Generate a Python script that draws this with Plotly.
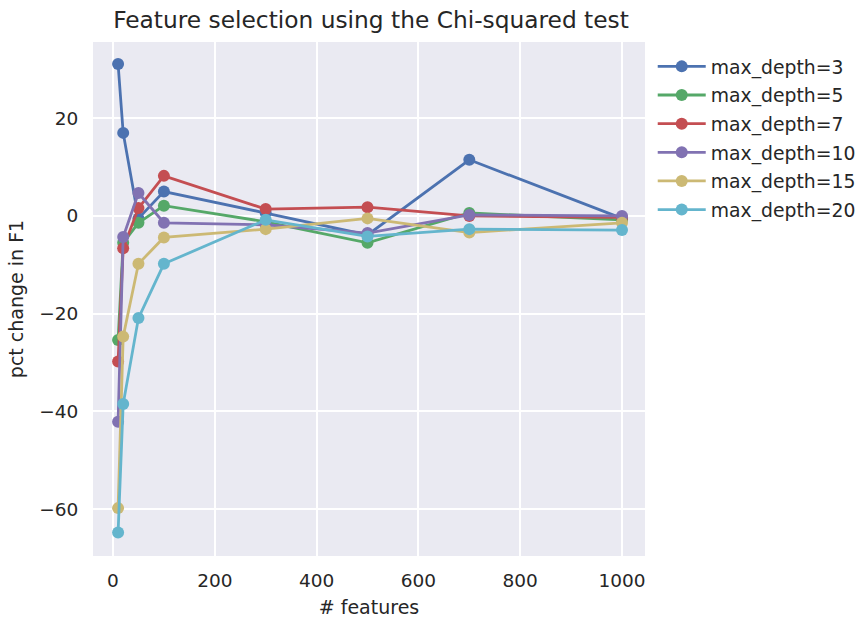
import plotly.graph_objects as go

# numero de features testadas
n_features = [10, 20, 50, 100, 300, 500, 700, 1000]

# pct change em F1 para cada max_depth
depth_3 = [31.1, 17.0, -0.5, 5.0, 0.6, -3.9, 11.5, -0.5]
depth_5 = [-25.4, -5.5, -1.4, 2.1, -1.2, -5.5, 0.6, -0.8]
depth_7 = [-29.8, -6.6, 1.6, 8.2, 1.4, 1.8, 0.0, -0.3]
depth_10 = [-42.1, -4.3, 4.7, -1.4, -1.8, -3.5, 0.2, 0.0]
depth_15 = [-59.8, -24.7, -9.8, -4.4, -2.7, -0.5, -3.4, -1.4]
depth_20 = [-64.8, -38.5, -20.9, -9.8, -0.8, -4.2, -2.7, -2.9]

series_names = ["max_depth=3", "max_depth=5", "max_depth=7",
                "max_depth=10", "max_depth=15", "max_depth=20"]
series_values = [depth_3, depth_5, depth_7, depth_10, depth_15, depth_20]

x_ticks = [0, 200, 400, 600, 800, 1000]
y_ticks = [-60, -40, -20, 0, 20]

# paleta "deep" do seaborn
cores = ["#4C72B0", "#55A868", "#C44E52", "#8172B2", "#CCB974", "#64B5CD"]

fig = go.Figure()

for nome, valores, cor in zip(series_names, series_values, cores):
    fig.add_trace(
        go.Scatter(
            x=n_features, y=valores, mode="lines+markers", name=nome,
            legendgroup=nome,
            line=dict(color=cor, width=2.8),
            marker=dict(color=cor, size=12),
        )
    )

fig.update_xaxes(
    title_text="# features",
    range=[-39.3, 1045.2],
    tickvals=x_ticks,
    showgrid=True, gridcolor="white", gridwidth=1.5,
    zeroline=False, showline=False,
    ticks="outside", ticklen=8, tickcolor="rgba(0,0,0,0)",
    tickfont=dict(size=18.5, color="#262626"),
    title_font=dict(size=19, color="#262626"),
    automargin=False,
)

fig.update_yaxes(
    title_text="pct change in F1",
    range=[-69.6, 35.6],
    tickvals=y_ticks,
    showgrid=True, gridcolor="white", gridwidth=1.5,
    zeroline=False, showline=False,
    ticks="outside", ticklen=10, tickcolor="rgba(0,0,0,0)",
    tickfont=dict(size=18.5, color="#262626"),
    title_font=dict(size=19, color="#262626"),
    title_standoff=10,
)

fig.update_layout(
    width=862, height=618,
    margin=dict(l=93, r=217, t=42, b=62, autoexpand=False),
    plot_bgcolor="#EAEAF2",
    paper_bgcolor="white",
    font=dict(family="DejaVu Sans", color="#262626"),
    title=dict(
        text="Feature selection using the Chi-squared test",
        x=371 / 862, xanchor="center",
        y=1 - 20 / 618, yanchor="middle",
        font=dict(size=23.3, color="#262626"),
    ),
    legend=dict(
        x=1.014, xanchor="left", y=0.989, yanchor="top",
        font=dict(size=18.8, color="#262626"),
        itemwidth=48,
        tracegroupgap=1.2,
        bgcolor="rgba(0,0,0,0)",
    ),
    showlegend=True,
)

# tira a margem padrao do body para o grafico ficar em (0, 0)
fig.write_html(
    "out.html",
    config={"displayModeBar": False},
    post_script="document.body.style.margin='0';",
)
